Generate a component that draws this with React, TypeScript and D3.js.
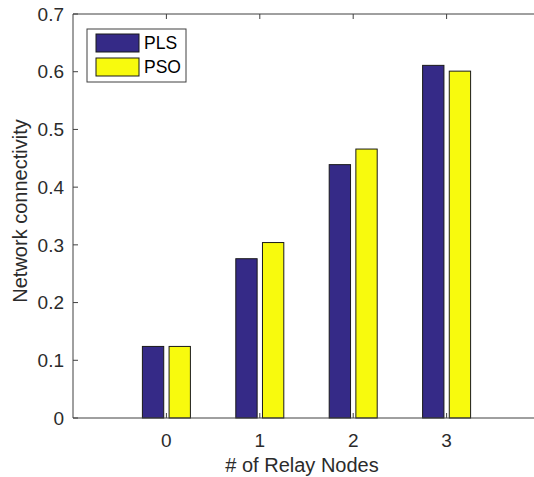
import React, { useEffect, useRef } from "react";
import * as d3 from "d3";

const categories = [0, 1, 2, 3];
const seriesNames = ["PLS", "PSO"];
const plsValues = [0.124, 0.276, 0.439, 0.611];
const psoValues = [0.124, 0.304, 0.466, 0.601];
const yTicks = [0, 0.1, 0.2, 0.3, 0.4, 0.5, 0.6, 0.7];
const colors = ["#352a87", "#f8fa0d"];

function App() {
  const ref = useRef<SVGSVGElement>(null);

  useEffect(() => {
    const svg = d3.select(ref.current);
    svg.selectAll("*").remove();

    const margin = { top: 14, left: 73, bottom: 418, right: 540 };
    const font = "'Liberation Sans', Arial, sans-serif";
    const axisColor = "#404040";
    const textColor = "#2b2b2b";

    const x = d3.scaleLinear().domain([-1, 4]).range([margin.left, margin.right]);
    const y = d3.scaleLinear().domain([0, 0.7]).range([margin.bottom, margin.top]);
    const x1 = d3.scaleBand().domain(seriesNames).range([-24, 24]).paddingInner(0.2);

    const data = categories.map((c, i) => ({ c, vals: [plsValues[i], psoValues[i]] }));

    // bars
    const g = svg.append("g");
    data.forEach((d) => {
      seriesNames.forEach((s, j) => {
        g.append("rect")
          .attr("x", x(d.c) + (x1(s) as number))
          .attr("y", y(d.vals[j]))
          .attr("width", x1.bandwidth())
          .attr("height", y(0) - y(d.vals[j]))
          .attr("fill", colors[j])
          .attr("stroke", "#1a1a1a")
          .attr("stroke-width", 1);
      });
    });

    // axes box lines
    const hline = (yy: number) =>
      svg.append("line")
        .attr("x1", margin.left).attr("x2", margin.right)
        .attr("y1", yy).attr("y2", yy)
        .attr("stroke", axisColor);
    hline(margin.bottom);
    hline(margin.top);
    svg.append("line")
      .attr("x1", margin.left).attr("x2", margin.left)
      .attr("y1", margin.top).attr("y2", margin.bottom)
      .attr("stroke", axisColor);

    // y ticks
    yTicks.forEach((t) => {
      svg.append("line")
        .attr("x1", margin.left).attr("x2", margin.left + 5)
        .attr("y1", y(t)).attr("y2", y(t))
        .attr("stroke", axisColor);
      svg.append("text")
        .attr("x", margin.left - 9)
        .attr("y", y(t))
        .attr("dy", "0.35em")
        .attr("text-anchor", "end")
        .attr("font-family", font)
        .attr("font-size", 19)
        .attr("fill", textColor)
        .text(String(t));
    });

    // x ticks
    categories.forEach((c) => {
      svg.append("line")
        .attr("x1", x(c)).attr("x2", x(c))
        .attr("y1", margin.bottom).attr("y2", margin.bottom - 5)
        .attr("stroke", axisColor);
      svg.append("line")
        .attr("x1", x(c)).attr("x2", x(c))
        .attr("y1", margin.top).attr("y2", margin.top + 5)
        .attr("stroke", axisColor);
      svg.append("text")
        .attr("x", x(c))
        .attr("y", margin.bottom + 29)
        .attr("text-anchor", "middle")
        .attr("font-family", font)
        .attr("font-size", 19)
        .attr("fill", textColor)
        .text(String(c));
    });

    // axis labels
    svg.append("text")
      .attr("x", 302)
      .attr("y", 472)
      .attr("text-anchor", "middle")
      .attr("font-family", font)
      .attr("font-size", 20)
      .attr("fill", textColor)
      .text("# of Relay Nodes");
    svg.append("text")
      .attr("transform", `translate(27,211) rotate(-90)`)
      .attr("text-anchor", "middle")
      .attr("font-family", font)
      .attr("font-size", 20)
      .attr("fill", textColor)
      .text("Network connectivity");

    // legend
    const lg = svg.append("g");
    lg.append("rect")
      .attr("x", 87).attr("y", 29)
      .attr("width", 99).attr("height", 53)
      .attr("fill", "white")
      .attr("stroke", axisColor);
    seriesNames.forEach((s, j) => {
      lg.append("rect")
        .attr("x", 96).attr("y", 34 + j * 24)
        .attr("width", 43).attr("height", 18)
        .attr("fill", colors[j])
        .attr("stroke", "#1a1a1a");
      lg.append("text")
        .attr("x", 144).attr("y", 43 + j * 24)
        .attr("dy", "0.36em")
        .attr("font-family", font)
        .attr("font-size", 17.5)
        .attr("fill", "#000")
        .text(s);
    });
  }, []);

  return (
    <div style={{ position: "absolute", left: 0, top: 0 }}>
      <svg ref={ref} width={534} height={477} style={{ display: "block", background: "white" }} />
    </div>
  );
}

export default App;
